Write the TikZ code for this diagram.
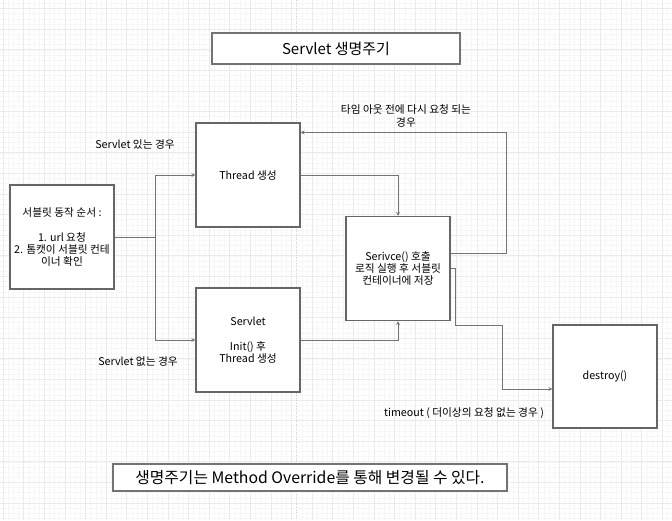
\documentclass[tikz,border=0pt]{standalone}
\usepackage{fontspec}
\setmainfont{Noto Sans CJK KR}
\usetikzlibrary{positioning}

\begin{document}
\begin{tikzpicture}[x=1pt, y=-1pt]

	\tikzstyle{every node}=[font=\fontsize{10.7}{12.4}\selectfont, text=black]
	\tikzstyle{box} = [draw=black!60, line width=1.1pt, fill=white, minimum width=104pt, minimum height=104pt, inner sep=1pt, align=center]
	\tikzstyle{banner} = [draw=black!55, line width=1.1pt, fill=white, font=\fontsize{15}{17}\selectfont]
	\tikzstyle{arrow} = [draw=black!55, line width=0.8pt, ->, >=stealth]

	% background grid
	\useasboundingbox (0,0) rectangle (672,520);
	\fill[white] (0,0) rectangle (672,520);
	\foreach \i in {0,...,131} \draw[black!3, line width=0.4pt] ({3+5.15*\i},0) -- ({3+5.15*\i},520);
	\foreach \i in {0,...,101} \draw[black!3, line width=0.4pt] (0,{-1.8+5.15*\i}) -- (672,{-1.8+5.15*\i});
	\foreach \i in {0,...,32} \draw[black!8, line width=0.5pt] ({3+20.6*\i},0) -- ({3+20.6*\i},520);
	\foreach \i in {0,...,25} \draw[black!8, line width=0.5pt] (0,{8.5+20.6*\i}) -- (672,{8.5+20.6*\i});
	\draw[black!18, dotted, line width=0.6pt] (296.5,0) -- (296.5,520);

	\node[banner, minimum width=248pt, minimum height=31pt] (title) at (336,48.5) {Servlet 생명주기};

	\node[box] (order)   at (62,237)    {서블릿 동작 순서 :\\[12.4pt]1. url 요청\\2. 톰캣이 서블릿 컨테\\이너 확인};
	\node[box] (thread)  at (248,175)   {Thread 생성};
	\node[box] (servlet) at (248,340)   {Servlet\\[12.4pt]Init() 후\\Thread 생성};
	\node[box] (service) at (398,268.5) {Serivce() 호출\\로직 실행 후 서블릿\\컨테이너에 저장};
	\node[box, minimum height=103pt] (destroy) at (605,376.5) {destroy()};

	\node[banner, minimum width=394pt, minimum height=27pt, font=\fontsize{15.8}{18}\selectfont] (note) at (310,477.5) {생명주기는 Method Override를 통해 변경될 수 있다.};

	\node (hit)     at (135,144) {Servlet 있는 경우};
	\node (miss)    at (138,361) {Servlet 없는 경우};
	\node[align=center] (again) at (406,116) {타임 아웃 전에 다시 요청 되는\\경우};
	\node (timeout) at (464,413) {timeout ( 더이상의 요청 없는 경우 )};

	\coordinate (split) at (155,237);
	\draw[draw=black!55, line width=0.8pt] (order.east) -- (split);
	\draw[arrow] (split) |- (thread.west);
	\draw[arrow] (split) |- (servlet.west);
	\draw[arrow] (thread.east)  -| (service.north);
	\draw[arrow] (servlet.east) -| (service.south);
	\draw[arrow] ([yshift=15.5pt]service.east) -- ++(56,0) |- ([yshift=-10pt]thread.north east);
	\draw[arrow] (service.east) -- ++(5,0) -- ++(0,56.5) -- ++(47,0) |- ([yshift=-12.5pt]destroy.west);

\end{tikzpicture}
\end{document}
